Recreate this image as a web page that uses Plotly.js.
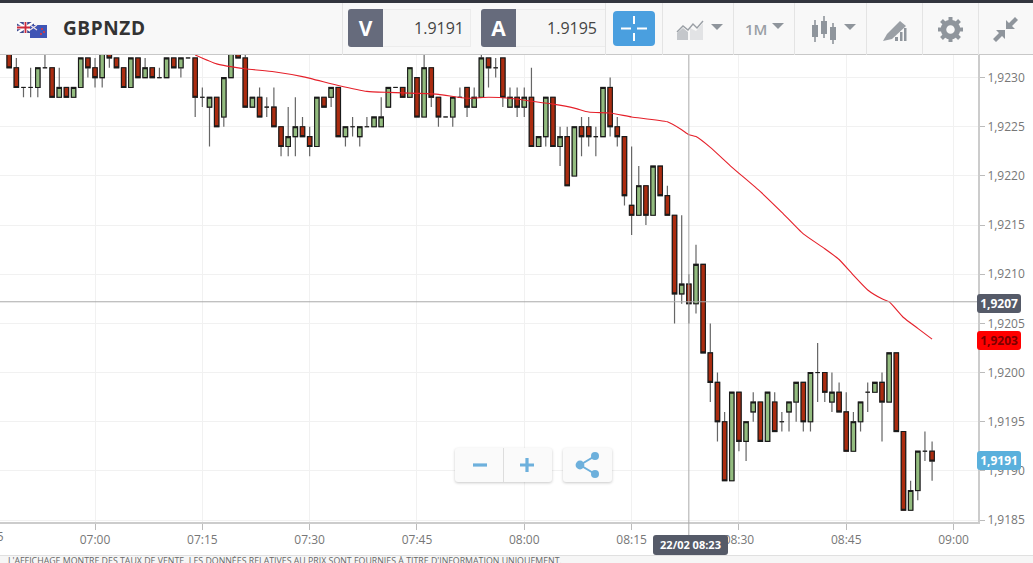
<!DOCTYPE html>
<html>
<head>
<meta charset="utf-8">
<script src="https://cdn.plot.ly/plotly-3.0.1.min.js"></script>
<style>
  html, body { margin: 0; padding: 0; background: #fff; overflow: hidden; }
  body { width: 1033px; height: 563px; position: relative; font-family: "Open Sans", sans-serif; }
  #chart { position: absolute; left: 0; top: 0; width: 1033px; height: 563px; }
  .abs { position: absolute; box-sizing: border-box; }
  #topband { left: 0; top: 0; width: 1033px; height: 3px; background: #33363f; }
  #toolbar { left: 0; top: 3px; width: 1033px; height: 52px; background: #f8f8f8; border-bottom: 1px solid #c8c8c8; }
  .sep { top: 3px; width: 1px; height: 52px; background: #e4e4e4; }
  .tag { border-radius: 3px; font-size: 12px; font-weight: 700; text-align: center; line-height: 19px; height: 19px; }
  .badge { top: 9px; width: 35px; height: 38px; background: #666b7c; color: #fff; font-size: 21px; font-weight: 700; text-align: center; line-height: 38px; border-radius: 3px 0 0 3px; }
  .field { top: 9px; height: 38px; background: #f6f6f6; border: 1px solid #ececec; border-left: 0; color: #444; font-size: 16px; text-align: right; line-height: 37px; padding-right: 6px; }
  .tri { width: 0; height: 0; border-left: 6px solid transparent; border-right: 6px solid transparent; border-top: 6px solid #8f959c; }
  .panel { background: #fafafa; border-radius: 3px; box-shadow: 0 1px 3px rgba(0,0,0,.22); }
</style>
</head>
<body>
<div id="chart"></div>

<div class="abs" id="topband"></div>
<div class="abs" id="toolbar"></div>
<svg class="abs" style="left:17px;top:21px" width="32" height="17" viewBox="0 0 32 17">
  <rect x="0" y="1" width="17" height="11" fill="#3d4a8f"/>
  <path d="M0 1 L17 12 M17 1 L0 12" stroke="#fff" stroke-width="2.4"/>
  <path d="M8.5 1 V12 M0 6.5 H17" stroke="#fff" stroke-width="3.4"/>
  <path d="M8.5 1 V12 M0 6.5 H17" stroke="#cc2b3d" stroke-width="1.8"/>
  <rect x="13" y="4" width="17" height="13" fill="#3f55b5"/>
  <path d="M13 4 L20 9 M20 4 L13 9" stroke="#f3e6e6" stroke-width="1.2"/>
  <circle cx="25" cy="8" r="1" fill="#e33"/><circle cx="27" cy="11" r="1" fill="#e33"/><circle cx="24" cy="13" r="1" fill="#e33"/>
</svg>
<div class="abs" style="left:63px;top:15px;font-size:19px;font-weight:700;color:#333;letter-spacing:.6px">GBPNZD</div>

<div class="abs sep" style="left:342px"></div>
<div class="abs badge" style="left:348px">V</div>
<div class="abs field" style="left:383px;width:88px">1.9191</div>
<div class="abs badge" style="left:481px">A</div>
<div class="abs field" style="left:516px;width:89px;border-right:0;padding-right:8px">1.9195</div>
<div class="abs sep" style="left:605px"></div>
<div class="abs" style="left:613px;top:11px;width:42px;height:35px;background:#4a9fdf;border-radius:4px"></div>
<svg class="abs" style="left:613px;top:11px" width="42" height="35">
  <path d="M8 17.5 H18 M24 17.5 H34 M21 5 V13 M21 22 V30" stroke="#fff" stroke-width="2"/>
</svg>
<div class="abs sep" style="left:662px"></div>
<svg class="abs" style="left:676px;top:19px" width="28" height="22">
  <path d="M1 21 V14 L7 9 L12 13 V21 Z" fill="#c4c7cb"/><path d="M14 21 V9 L20 12 L27 4 V21 Z" fill="#e2e3e5"/>
  <path d="M1 13 L7 7 L12 11 L17 5 L21 9 L27 2" fill="none" stroke="#9a9fa5" stroke-width="1.4"/>
</svg>
<div class="abs tri" style="left:711px;top:24px"></div>
<div class="abs sep" style="left:733px"></div>
<div class="abs" style="left:745px;top:19px;font-size:15px;font-weight:600;color:#9a9fa5">1M</div>
<div class="abs tri" style="left:772px;top:23px"></div>
<div class="abs sep" style="left:794px"></div>
<svg class="abs" style="left:810px;top:15px" width="28" height="30">
  <path d="M5 5 V27 M14 1 V23 M23 8 V29" stroke="#8f959c" stroke-width="1.6"/>
  <rect x="2" y="10" width="6" height="12" fill="#8f959c"/><rect x="11" y="6" width="6" height="13" fill="#8f959c"/><rect x="20" y="12" width="6" height="13" fill="#8f959c"/>
</svg>
<div class="abs tri" style="left:844px;top:24px"></div>
<div class="abs sep" style="left:866px"></div>
<svg class="abs" style="left:883px;top:20px" width="24" height="22">
  <path d="M0 21 L4 14 L17 1 L23 6 L9 19 Z" fill="#9a9fa5"/>
  <path d="M12 21 H15 V17 H12 Z M17 21 H19.5 V12 H17 Z M21 21 H23.5 V8 H21 Z" fill="#8f959c"/>
</svg>
<div class="abs sep" style="left:922px"></div>
<svg class="abs" style="left:938px;top:17px" width="25" height="25" viewBox="-12.5 -12.5 25 25">
  <circle r="7" fill="none" stroke="#8f959c" stroke-width="5.5"/>
  <g stroke="#8f959c" stroke-width="4">
    <path d="M0 -12.5 V-8 M0 12.5 V8 M-12.5 0 H-8 M12.5 0 H8 M-9 -9 L-5.5 -5.5 M9 9 L5.5 5.5 M-9 9 L-5.5 5.5 M9 -9 L5.5 -5.5"/>
  </g>
</svg>
<div class="abs sep" style="left:978px"></div>
<svg class="abs" style="left:993px;top:17px" width="25" height="25">
  <path d="M13 12 V3 L16 6 L22 0 L25 3 L19 9 L22 12 Z" fill="#8f959c"/>
  <path d="M12 13 V22 L9 19 L3 25 L0 22 L6 16 L3 13 Z" fill="#8f959c"/>
</svg>

<div class="abs panel" style="left:455px;top:448px;width:97px;height:34px"></div>
<div class="abs" style="left:503px;top:448px;width:1px;height:34px;background:#ddd"></div>
<svg class="abs" style="left:455px;top:448px" width="97" height="34">
  <path d="M18 17 H32" stroke="#6db0dc" stroke-width="3.2"/>
  <path d="M65 17 H79 M72 10 V24" stroke="#6db0dc" stroke-width="3.2"/>
</svg>
<div class="abs panel" style="left:563px;top:448px;width:49px;height:34px"></div>
<svg class="abs" style="left:563px;top:448px" width="49" height="34">
  <path d="M32 8 L17 17 L32 26" fill="none" stroke="#6db0dc" stroke-width="2"/>
  <circle cx="32" cy="8" r="4" fill="#6db0dc"/><circle cx="17" cy="17" r="4.4" fill="#6db0dc"/><circle cx="32" cy="26" r="4" fill="#6db0dc"/>
</svg>

<div class="abs tag" style="left:977px;top:294px;width:44px;background:#555a68;color:#fff">1,9207</div>
<div class="abs tag" style="left:977px;top:331px;width:44px;background:#f00;color:#7a0000">1,9203</div>
<div class="abs tag" style="left:977px;top:451px;width:44px;background:#5ab0dc;color:#fff">1,9191</div>
<div class="abs tag" style="left:653px;top:535px;width:75px;height:20px;background:#555a68;color:#fff;font-size:11px;font-weight:700;line-height:20px">22/02 08:23</div>

<div class="abs" style="left:0;top:555px;width:1033px;height:8px;background:#f6f6f6;border-top:1px solid #e0e0e0;overflow:hidden">
  <div style="position:absolute;left:8px;top:0;font-size:8.8px;line-height:10px;color:#666;white-space:nowrap">L'AFFICHAGE MONTRE DES TAUX DE VENTE. LES DONNÉES RELATIVES AU PRIX SONT FOURNIES À TITRE D'INFORMATION UNIQUEMENT.</div>
</div>

<script>
// one candle per minute, 06:48 to 08:57
const day = '2019-02-22';
const firstMinute = 6 * 60 + 48;

const opens = [
  1.9233,1.9231,1.9229,1.9229,1.9229,1.9231,1.9231,1.9228,1.9229,1.9228,
  1.9229,1.9232,1.9231,1.9230,1.9233,1.9232,1.9231,1.9229,1.9232,1.9230,
  1.9231,1.9230,1.9230,1.9232,1.9231,1.9232,1.9232,1.9228,1.9227,1.9228,
  1.9226,1.9230,1.9233,1.9232,1.9227,1.9228,1.9227,1.9227,1.9225,1.9223,
  1.9224,1.9225,1.9224,1.9223,1.9228,1.9228,1.9229,1.9224,1.9225,1.9224,
  1.9225,1.9225,1.9225,1.9227,1.9229,1.9229,1.9228,1.9230,1.9226,1.9231,
  1.9228,1.9226,1.9226,1.9228,1.9229,1.9227,1.9228,1.9232,1.9231,1.9232,
  1.9227,1.9228,1.9227,1.9228,1.9223,1.9224,1.9228,1.9223,1.9224,1.9220,
  1.9225,1.9225,1.9224,1.9224,1.9229,1.9225,1.9224,1.9217,1.9216,1.9219,
  1.9216,1.9221,1.9218,1.9216,1.9208,1.9209,1.9207,1.9211,1.9202,1.9199,
  1.9195,1.9189,1.9198,1.9193,1.9196,1.9197,1.9193,1.9197,1.9195,1.9196,
  1.9197,1.9199,1.9195,1.9200,1.9200,1.9197,1.9198,1.9196,1.9192,1.9195,
  1.9198,1.9198,1.9199,1.9197,1.9202,1.9194,1.9186,1.9188,1.9192,1.9192
];
const highs = [
  1.9233,1.9232,1.9229,1.9231,1.9231,1.9233,1.9231,1.9231,1.9229,1.9229,
  1.9232,1.9232,1.9232,1.9233,1.9233,1.9232,1.9231,1.9232,1.9232,1.9232,
  1.9231,1.9231,1.9232,1.9232,1.9232,1.9232,1.9232,1.9229,1.9228,1.9228,
  1.9230,1.9233,1.9233,1.9233,1.9228,1.9229,1.9228,1.9229,1.9225,1.9227,
  1.9228,1.9226,1.9225,1.9228,1.9228,1.9229,1.9229,1.9225,1.9226,1.9225,
  1.9226,1.9226,1.9228,1.9229,1.9229,1.9229,1.9231,1.9230,1.9233,1.9231,
  1.9228,1.9226,1.9228,1.9229,1.9229,1.9229,1.9233,1.9232,1.9232,1.9232,
  1.9229,1.9229,1.9229,1.9231,1.9224,1.9228,1.9228,1.9225,1.9225,1.9225,
  1.9226,1.9226,1.9225,1.9229,1.9230,1.9226,1.9224,1.9223,1.9221,1.9219,
  1.9221,1.9221,1.9219,1.9216,1.9216,1.9210,1.9213,1.9211,1.9205,1.9200,
  1.9196,1.9198,1.9198,1.9195,1.9198,1.9197,1.9198,1.9198,1.9196,1.9197,
  1.9199,1.9199,1.9200,1.9203,1.9200,1.9200,1.9199,1.9198,1.9196,1.9197,
  1.9199,1.9199,1.9200,1.9202,1.9202,1.9194,1.9189,1.9192,1.9194,1.9193
];
const lows = [
  1.9231,1.9229,1.9228,1.9228,1.9228,1.9231,1.9228,1.9228,1.9228,1.9228,
  1.9229,1.9230,1.9229,1.9229,1.9231,1.9231,1.9229,1.9229,1.9230,1.9230,
  1.9230,1.9230,1.9230,1.9231,1.9230,1.9232,1.9226,1.9227,1.9223,1.9225,
  1.9225,1.9230,1.9232,1.9227,1.9227,1.9226,1.9226,1.9225,1.9222,1.9222,
  1.9222,1.9224,1.9222,1.9223,1.9227,1.9227,1.9224,1.9223,1.9224,1.9223,
  1.9225,1.9225,1.9225,1.9227,1.9229,1.9228,1.9228,1.9226,1.9226,1.9227,
  1.9225,1.9226,1.9225,1.9228,1.9226,1.9227,1.9228,1.9229,1.9230,1.9227,
  1.9227,1.9226,1.9226,1.9223,1.9223,1.9223,1.9223,1.9221,1.9219,1.9220,
  1.9222,1.9223,1.9222,1.9224,1.9224,1.9223,1.9217,1.9214,1.9216,1.9215,
  1.9216,1.9218,1.9216,1.9205,1.9207,1.9205,1.9206,1.9202,1.9197,1.9193,
  1.9189,1.9189,1.9192,1.9191,1.9195,1.9193,1.9193,1.9194,1.9194,1.9194,
  1.9195,1.9194,1.9194,1.9197,1.9197,1.9196,1.9196,1.9192,1.9192,1.9194,
  1.9196,1.9198,1.9193,1.9197,1.9194,1.9186,1.9186,1.9187,1.9191,1.9189
];
const closes = [
  1.9231,1.9229,1.9229,1.9229,1.9231,1.9231,1.9228,1.9229,1.9228,1.9229,
  1.9232,1.9231,1.9230,1.9233,1.9232,1.9231,1.9229,1.9232,1.9230,1.9231,
  1.9230,1.9230,1.9232,1.9231,1.9232,1.9232,1.9228,1.9228,1.9228,1.9225,
  1.9230,1.9233,1.9232,1.9227,1.9228,1.9226,1.9227,1.9225,1.9223,1.9224,
  1.9225,1.9224,1.9223,1.9228,1.9227,1.9229,1.9224,1.9225,1.9225,1.9225,
  1.9225,1.9226,1.9226,1.9229,1.9229,1.9228,1.9231,1.9226,1.9231,1.9228,
  1.9226,1.9226,1.9228,1.9228,1.9227,1.9228,1.9232,1.9231,1.9231,1.9228,
  1.9228,1.9227,1.9228,1.9223,1.9224,1.9228,1.9223,1.9224,1.9219,1.9225,
  1.9224,1.9224,1.9224,1.9229,1.9225,1.9224,1.9218,1.9216,1.9219,1.9216,
  1.9221,1.9218,1.9216,1.9208,1.9209,1.9207,1.9211,1.9202,1.9199,1.9195,
  1.9189,1.9198,1.9193,1.9195,1.9197,1.9193,1.9198,1.9194,1.9195,1.9197,
  1.9199,1.9195,1.9200,1.9200,1.9198,1.9198,1.9196,1.9192,1.9195,1.9197,
  1.9198,1.9199,1.9197,1.9202,1.9194,1.9186,1.9188,1.9192,1.9192,1.9191
];

// red moving average
const maTimes = ['07:14','07:17','07:21','07:25','07:29','07:34','07:38','07:41','07:45','07:48',
  '07:52','07:55','07:58','08:01','08:04','08:07','08:09','08:12','08:15','08:20',
  '08:22','08:23','08:24','08:26','08:29','08:33','08:36','08:39','08:42','08:44',
  '08:46','08:48','08:50','08:51','08:53','08:55','08:57'];
const maValues = [1.92323,1.92314,1.92309,1.92306,1.92301,1.92292,1.92286,1.92285,1.92284,1.92283,
  1.92279,1.92280,1.92279,1.92276,1.92273,1.92269,1.92265,1.92264,1.92260,1.92255,
  1.92247,1.92242,1.92240,1.92229,1.92209,1.92184,1.92163,1.92141,1.92126,1.92115,
  1.92099,1.92084,1.92075,1.92072,1.92056,1.92045,1.92034];

const crossTime = '08:23';
const crossPrice = 1.92072;

const pad = n => String(n).padStart(2, '0');
const times = opens.map((_, i) => {
  const m = firstMinute + i;
  return day + ' ' + pad(Math.floor(m / 60)) + ':' + pad(m % 60);
});

// wicks in grey, bodies drawn on top with a black outline
const wicks = {
  type: 'candlestick', x: times, open: opens, high: highs, low: lows, close: closes,
  whiskerwidth: 0, hoverinfo: 'skip',
  increasing: { line: { color: '#666', width: 1.2 }, fillcolor: '#8fb87a' },
  decreasing: { line: { color: '#666', width: 1.2 }, fillcolor: '#a52a10' },
};
const bodies = {
  type: 'candlestick', x: times, open: opens, close: closes,
  high: opens.map((o, i) => Math.max(o, closes[i])),
  low: opens.map((o, i) => Math.min(o, closes[i])),
  whiskerwidth: 0, hoverinfo: 'skip',
  increasing: { line: { color: '#1a1a1a', width: 1.1 }, fillcolor: '#93bc7f' },
  decreasing: { line: { color: '#1a1a1a', width: 1.1 }, fillcolor: '#ab2c10' },
};
const ma = {
  type: 'scatter', mode: 'lines',
  x: maTimes.map(t => day + ' ' + t), y: maValues,
  line: { color: '#e5202a', width: 1.1, shape: 'spline', smoothing: 0.5 }, hoverinfo: 'skip',
};

const layout = {
  width: 1033, height: 563,
  margin: { l: 0, r: 55, t: 55, b: 41, pad: 0 },
  paper_bgcolor: '#fff', plot_bgcolor: '#fff',
  showlegend: false,
  separators: ', ',
  boxmode: 'overlay', boxgap: 0.12,
  font: { family: '"Open Sans", sans-serif', size: 12, color: '#777' },
  xaxis: {
    type: 'date',
    range: [day + ' 06:46:43', day + ' 09:03:25'],
    rangeslider: { visible: false },
    tick0: day + ' 07:00', dtick: 15 * 60 * 1000, tickformat: '%H:%M',
    ticks: 'outside', ticklen: 6, tickcolor: '#bbb',
    gridcolor: '#f1f1f1', showline: true, linecolor: '#ccc', linewidth: 2,
    zeroline: false,
  },
  yaxis: {
    side: 'right',
    range: [1.91848, 1.92323],
    tick0: 1.9185, dtick: 0.0005, tickformat: '.4f',
    ticks: 'outside', ticklen: 5, tickcolor: '#bbb',
    gridcolor: '#f1f1f1', showline: true, linecolor: '#ccc', linewidth: 2,
    zeroline: false,
  },
  shapes: [
    { type: 'line', xref: 'x', yref: 'paper', x0: day + ' ' + crossTime, x1: day + ' ' + crossTime, y0: -0.028, y1: 1,
      line: { color: '#aaa', width: 1 } },
    { type: 'line', xref: 'paper', yref: 'y', x0: 0, x1: 1, y0: crossPrice, y1: crossPrice,
      line: { color: '#aaa', width: 1 } },
  ],
  annotations: [
    // 06:45 label, cut by the left edge of the window
    { xref: 'paper', yref: 'paper', x: -12 / 978, y: 0, yshift: -14, xanchor: 'center', yanchor: 'middle',
      text: '06:45', showarrow: false, font: { size: 12, color: '#777' } },
  ],
};

Plotly.newPlot('chart', [wicks, bodies, ma], layout, { displayModeBar: false, staticPlot: true });
</script>
</body>
</html>
